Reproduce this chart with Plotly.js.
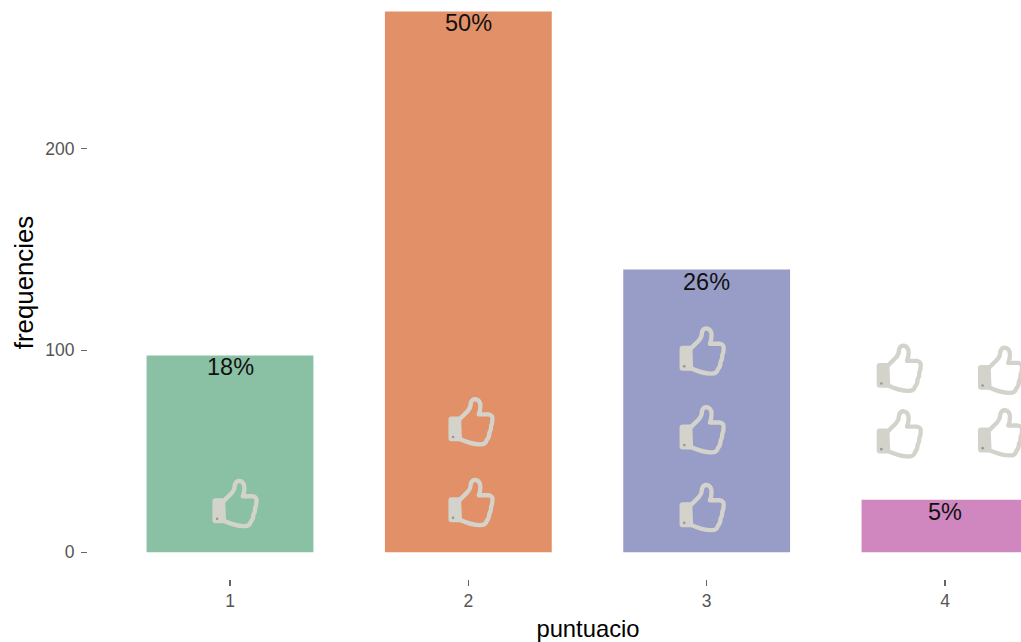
<!DOCTYPE html>
<html>
<head>
<meta charset="utf-8">
<script src="https://cdn.plot.ly/plotly-3.0.1.min.js"></script>
<style>
html,body{margin:0;padding:0;width:1021px;height:642px;overflow:hidden;background:#fff}
#chart{position:absolute;left:0;top:-14px;width:1088px;height:656px}
</style>
</head>
<body>
<div id="chart"></div>
<script>
const categories = [1, 2, 3, 4];
const frequencies = [97.5, 267.8, 140, 26];
const percentLabels = ["18%", "50%", "26%", "5%"];
const barColors = ["#8ac1a5", "#e19067", "#989dc8", "#d087bf"];
const yTicks = [0, 100, 200];

// thumb icon positions in data units
const thumbX = [1.02, 2.01, 2.01, 2.98, 2.98, 2.98, 3.807, 3.807, 4.232, 4.232];
const thumbY = [24, 24.5, 64.5, 22, 60.5, 99.5, 58.5, 91, 59, 90];
const thumbWidth = 0.204;
const thumbHeight = 26;

const thumbSvg = `<svg xmlns="http://www.w3.org/2000/svg" viewBox="50 44 146 158">
<path d="M90 114 Q104 100 114 90 Q124 78 123 66 Q126 54 137 54 Q152 57 152 75 Q152 88 147 100 L176 100 Q191 102 188 117 Q188 128 184 135 Q185 147 179 155 Q179 169 171 177 Q168 191 150 190 Q125 190 90 174" fill="none" stroke="#d3d3cb" stroke-width="13" stroke-linecap="round" stroke-linejoin="round"/>
<path d="M65 106 L94 106 L97 181 L65 181 Q56 181 56 172 L56 115 Q56 106 65 106 Z" fill="#d3d3cb"/>
<circle cx="70" cy="168" r="4" fill="#9a9a92"/>
</svg>`;
const thumbSrc = "data:image/svg+xml;charset=utf-8," + encodeURIComponent(thumbSvg);

const data = [{
  type: "bar",
  x: categories,
  y: frequencies,
  width: 0.7,
  marker: {color: barColors, line: {width: 0}},
  hoverinfo: "x+y"
}];

const layout = {
  width: 1088,
  height: 656,
  margin: {l: 88, r: 0, t: 0, b: 63, pad: 0},
  paper_bgcolor: "#ffffff",
  plot_bgcolor: "#ffffff",
  showlegend: false,
  font: {family: "Liberation Sans, Arial, sans-serif"},
  xaxis: {
    range: [0.4042, 4.6],
    tickmode: "array",
    tickvals: categories,
    ticktext: categories.map(String),
    ticks: "outside",
    ticklen: 6,
    tickwidth: 1.5,
    tickcolor: "#666666",
    tickfont: {size: 17.5, color: "#555555"},
    showgrid: false,
    zeroline: false,
    showline: false,
    title: {text: "puntuacio", font: {size: 23.8, color: "#000000"}, standoff: 10}
  },
  yaxis: {
    range: [-13.2, 280.4],
    tickmode: "array",
    tickvals: yTicks,
    ticktext: yTicks.map(String),
    ticks: "outside",
    ticklen: 6,
    tickwidth: 1.5,
    tickcolor: "#666666",
    tickfont: {size: 17.5, color: "#555555"},
    ticklabelstandoff: 3,
    showgrid: false,
    zeroline: false,
    showline: false,
    title: {text: "frequencies", font: {size: 25.8, color: "#000000"}, standoff: 4}
  },
  annotations: categories.map((c, i) => ({
    x: c, y: frequencies[i], xref: "x", yref: "y",
    text: percentLabels[i], showarrow: false,
    xanchor: "center", yanchor: "top", yshift: 3,
    font: {size: 23.5, color: "#111111"}
  })),
  images: thumbX.map((x, i) => ({
    source: thumbSrc,
    xref: "x", yref: "y",
    x: x, y: thumbY[i],
    sizex: thumbWidth, sizey: thumbHeight,
    xanchor: "center", yanchor: "middle",
    sizing: "stretch", layer: "above"
  }))
};

Plotly.newPlot("chart", data, layout, {displayModeBar: false, staticPlot: true});
</script>
</body>
</html>
